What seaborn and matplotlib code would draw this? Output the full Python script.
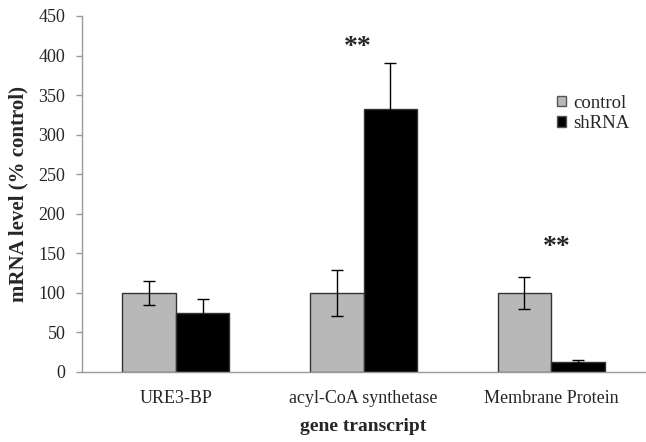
import matplotlib
matplotlib.use("Agg")
import matplotlib.pyplot as plt
import seaborn as sns
import pandas as pd
import numpy as np

categories = ["URE3-BP", "acyl-CoA synthetase", "Membrane Protein"]
groups = ["control", "shRNA"]
control_vals = [100, 100, 100]
control_err = [15, 29, 20]
shrna_vals = [75, 333, 13]
shrna_err = [17, 58, 2]
yticks = [0, 50, 100, 150, 200, 250, 300, 350, 400, 450]

sns.set_style("white")
plt.rcParams['font.family'] = ['Liberation Serif', 'DejaVu Serif']

df = pd.DataFrame({
    "gene": categories * 2,
    "group": ["control"] * 3 + ["shRNA"] * 3,
    "value": control_vals + shrna_vals,
})

fig = plt.figure(figsize=(6.46, 4.42), dpi=100)
ax = fig.add_axes([82/646, 1 - 372/442, 563/646, 356/442])

sns.barplot(data=df, x="gene", y="value", hue="group", order=categories,
            hue_order=groups, palette={"control": "#b8b8b8", "shRNA": "#000000"},
            width=0.57, errorbar=None, edgecolor="#333333", linewidth=1.0,
            ax=ax, legend=True)

errs = {"control": control_err, "shRNA": shrna_err}
vals = {"control": control_vals, "shRNA": shrna_vals}
for container, g in zip(ax.containers, groups):
    xs = [p.get_x() + p.get_width() / 2 for p in container.patches]
    ax.errorbar(xs, vals[g], yerr=errs[g], fmt="none", ecolor="#000000",
                elinewidth=1.0, capsize=4, capthick=1.0, zorder=5)

ax.set_ylim(0, 450)
ax.set_xlim(-0.5, 2.5)
ax.set_yticks(yticks)
ax.set_yticklabels([str(v) for v in yticks], fontsize=13)
ax.set_xticks(range(3))
ax.set_xticklabels(categories, fontsize=13)
ax.set_xticks([0.5, 1.5], minor=True)
ax.tick_params(axis="x", which="major", length=0, pad=13)
ax.tick_params(axis="x", which="minor", length=5, color="#999999", width=1)
ax.tick_params(axis="y", length=4, color="#999999", width=1, left=True, pad=8)

for s in ["top", "right"]:
    ax.spines[s].set_visible(False)
for s in ["left", "bottom"]:
    ax.spines[s].set_color("#999999")
    ax.spines[s].set_linewidth(1)

ax.set_ylabel("mRNA level (% control)", fontsize=15, fontweight="bold")
ax.yaxis.set_label_coords(-(82 - 28) / 563, 0.5)
ax.set_xlabel("gene transcript", fontsize=14, fontweight="bold")
ax.xaxis.set_label_coords(0.5, -(418 - 372) / 356)

ax.text(0.97, 410, "**", ha="center", va="center", fontsize=20, fontweight="bold")
ax.text(2.03, 157, "**", ha="center", va="center", fontsize=20, fontweight="bold")

leg = ax.legend(loc="upper left", bbox_to_anchor=(0.83, 0.80), frameon=False,
                fontsize=13.5, handlelength=0.5, handleheight=0.5,
                handletextpad=0.4, labelspacing=0.2, borderaxespad=0)
for h in leg.legend_handles:
    h.set_edgecolor("#555555")

fig.savefig("out.png", dpi=100)
